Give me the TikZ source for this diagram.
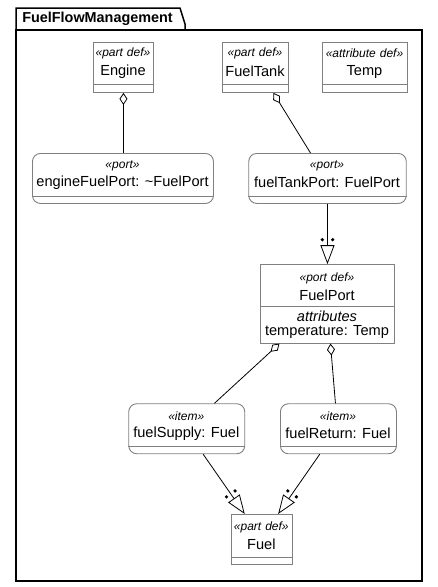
\documentclass[tikz,border=0pt]{standalone}
\usepackage{fontspec}
\setmainfont{Liberation Sans}
\usetikzlibrary{arrows.meta,calc}
\definecolor{boxgray}{RGB}{128,128,128}
\begin{document}
\begin{tikzpicture}[x=1pt,y=-1pt,
  frameline/.style={draw=black,line width=1.5pt},
  defbox/.style={draw=boxgray,line width=0.9pt,fill=white,inner sep=0pt,anchor=north west},
  usagebox/.style={defbox,rounded corners=8pt},
  divider/.style={draw=boxgray,line width=0.9pt},
  stereo/.style={font=\itshape\fontsize{12}{13}\selectfont,inner sep=0pt},
  elname/.style={font=\fontsize{14.6}{17}\selectfont,inner sep=0pt},
  titletext/.style={font=\bfseries\fontsize{14.4}{17}\selectfont,inner sep=0pt},
  conn/.style={draw=black,line width=0.8pt},
  aggr/.style={conn,{Diamond[open,length=12pt,width=8pt]}-},
  defarrow/.style={conn,-{Triangle[open,length=19pt,width=14pt]}}
]
\useasboundingbox (0,0) rectangle (438,587);
\fill[white] (0,0) rectangle (438,587);

% package frame
\draw[frameline] (16,30) rectangle (422,581);
\draw[frameline,line join=miter] (16,30) -- (16,8) -- (180,8) -- (185,24) -- (185,30);
\node[titletext] (title) at (97.5,18.5) {FuelFlowManagement};

% definitions
\node[defbox,minimum width=60pt,minimum height=50pt] (engine) at (93,42) {};
\node[stereo] (engineS) at (123,53.3) {«part\,\,def»};
\node[elname] (engineN) at (123,71.7) {Engine};
\draw[divider] ([yshift=8pt]engine.south west) -- ([yshift=8pt]engine.south east);

\node[defbox,minimum width=66pt,minimum height=50pt] (fuelTank) at (222,42) {};
\node[stereo] (fuelTankS) at (255,53.3) {«part\,\,def»};
\node[elname] (fuelTankN) at (255,71.7) {FuelTank};
\draw[divider] ([yshift=8pt]fuelTank.south west) -- ([yshift=8pt]fuelTank.south east);

\node[defbox,minimum width=85pt,minimum height=50pt] (temp) at (322,42) {};
\node[stereo] (tempS) at (364.5,53.3) {«attribute\,\,def»};
\node[elname] (tempN) at (364.5,71.7) {Temp};
\draw[divider] ([yshift=8pt]temp.south west) -- ([yshift=8pt]temp.south east);

% ports
\node[usagebox,minimum width=181pt,minimum height=50pt] (engineFuelPort) at (32,153) {};
\node[stereo] (engineFuelPortS) at (122.5,166) {«port»};
\node[elname] (engineFuelPortN) at (122.5,182.7) {engineFuelPort: \textasciitilde FuelPort};
\draw[divider] ([yshift=7.5pt]engineFuelPort.south west) -- ([yshift=7.5pt]engineFuelPort.south east);

\node[usagebox,minimum width=157.5pt,minimum height=50pt] (fuelTankPort) at (248.3,153) {};
\node[stereo] (fuelTankPortS) at (327,166) {«port»};
\node[elname] (fuelTankPortN) at (327,182.7) {fuelTankPort: FuelPort};
\draw[divider] ([yshift=7.5pt]fuelTankPort.south west) -- ([yshift=7.5pt]fuelTankPort.south east);

% port def
\node[defbox,minimum width=134pt,minimum height=78.5pt] (fuelPort) at (260,264.2) {};
\node[stereo] (fuelPortS) at (327,278) {«port\,\,def»};
\node[elname] (fuelPortN) at (327,295) {FuelPort};
\draw[divider] (260,306.7) -- (394,306.7);
\node[elname,font=\itshape\fontsize{14.6}{17}\selectfont] (fuelPortA) at (327,316.5) {attributes};
\node[elname] (fuelPortT) at (327,331.5) {temperature: Temp};

% items
\node[usagebox,minimum width=116pt,minimum height=50pt] (fuelSupply) at (128.3,403.3) {};
\node[stereo] (fuelSupplyS) at (186.3,416.7) {«item»};
\node[elname] (fuelSupplyN) at (186.3,433.3) {fuelSupply: Fuel};
\draw[divider] ([yshift=7.5pt]fuelSupply.south west) -- ([yshift=7.5pt]fuelSupply.south east);

\node[usagebox,minimum width=116pt,minimum height=50pt] (fuelReturn) at (280,403.3) {};
\node[stereo] (fuelReturnS) at (338,416.7) {«item»};
\node[elname] (fuelReturnN) at (338,433.3) {fuelReturn: Fuel};
\draw[divider] ([yshift=7.5pt]fuelReturn.south west) -- ([yshift=7.5pt]fuelReturn.south east);

% Fuel
\node[defbox,minimum width=61pt,minimum height=50pt] (fuel) at (230.8,514) {};
\node[stereo] (fuelS) at (261.3,527.3) {«part\,\,def»};
\node[elname] (fuelN) at (261.3,544) {Fuel};
\draw[divider] ([yshift=7.5pt]fuel.south west) -- ([yshift=7.5pt]fuel.south east);

% connector end points
\coordinate (c1a) at (engine.south);
\coordinate (c1b) at (engine.south |- engineFuelPort.north);
\coordinate (c2a) at ([xshift=18pt]fuelTank.south);
\coordinate (c2b) at ([xshift=-17pt]fuelTankPort.north);
\coordinate (c3a) at (fuelTankPort.south);
\coordinate (c3b) at (fuelPort.north);
\coordinate (c4a) at ([xshift=-48pt]fuelPort.south);
\coordinate (c4b) at ([xshift=27.7pt]fuelSupply.north);
\coordinate (c5a) at ([xshift=3pt]fuelPort.south);
\coordinate (c5b) at ([xshift=-3pt]fuelReturn.north);
\coordinate (c6a) at ([xshift=16.4pt]fuelSupply.south);
\coordinate (c6b) at ([xshift=-17pt]fuel.north);
\coordinate (c7a) at ([xshift=-18.7pt]fuelReturn.south);
\coordinate (c7b) at ([xshift=16.4pt]fuel.north);

% aggregations
\draw[aggr] (c1a) -- (c1b);
\draw[aggr] (c2a) -- (c2b);
\draw[aggr] (c4a) -- (c4b);
\draw[aggr] (c5a) -- (c5b);

% defined-by
\foreach \s/\t in {c3a/c3b,c6a/c6b,c7a/c7b}{
  \draw[defarrow] (\s) -- (\t);
  \coordinate (dm) at ($(\t)!24.5pt!(\s)$);
  \fill ($(dm)!5.2pt!90:(\t)$) circle (1.8pt);
  \fill ($(dm)!5.2pt!-90:(\t)$) circle (1.8pt);
}
\end{tikzpicture}
\end{document}
